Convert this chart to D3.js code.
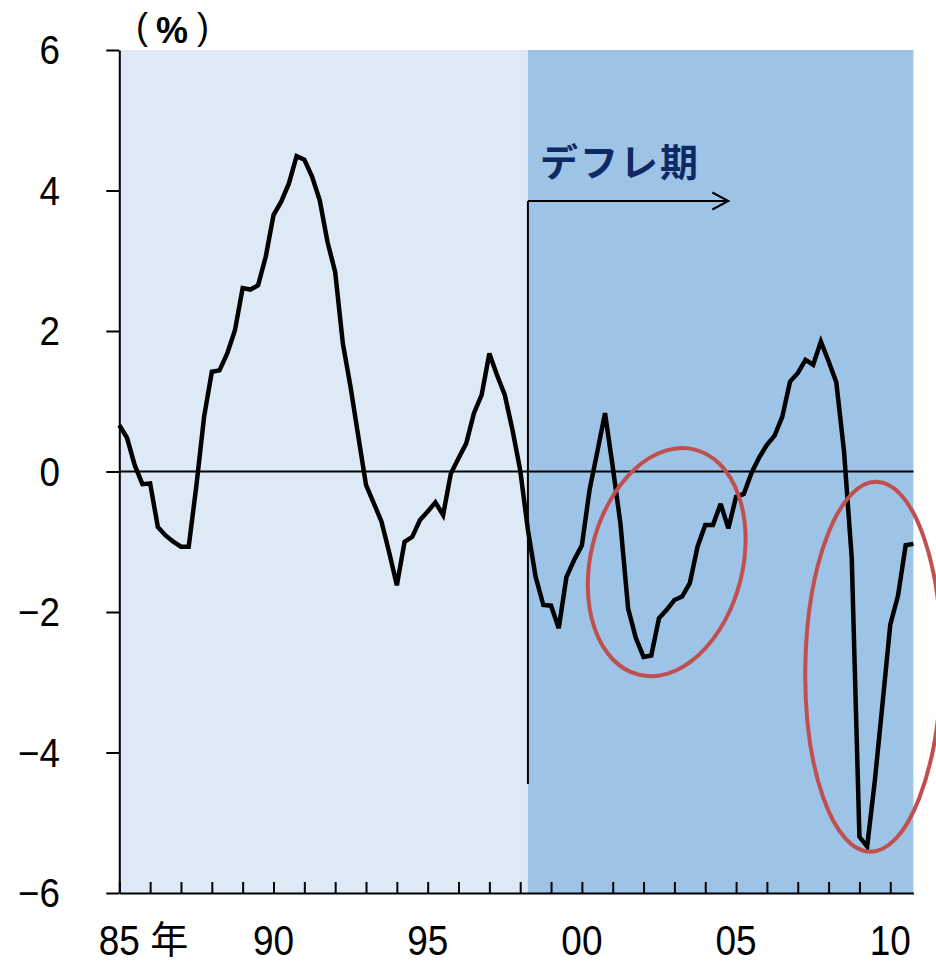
<!DOCTYPE html>
<html>
<head>
<meta charset="utf-8">
<script src="https://cdn.jsdelivr.net/npm/d3@7"></script>
<style>
  body { margin: 0; background: #fff; }
  svg { display: block; }
  .num { font-family: "Liberation Sans Narrow", "Arial Narrow", "Liberation Sans", sans-serif; }
</style>
</head>
<body>
<div id="chart"></div>
<script>
// quarterly values from 1985 Q1 (%)
var startYear = 1985;
var values = [
    0.66, 0.48, 0.09, -0.18, -0.17, -0.79, -0.91, -1.00,
    -1.07, -1.07, -0.20, 0.78, 1.42, 1.44, 1.68, 2.01,
    2.61, 2.59, 2.65, 3.06, 3.65, 3.84, 4.10, 4.49,
    4.44, 4.20, 3.86, 3.27, 2.84, 1.82, 1.20, 0.50,
    -0.19, -0.45, -0.71, -1.15, -1.62, -1.00, -0.93, -0.69,
    -0.57, -0.44, -0.62, -0.03, 0.19, 0.40, 0.83, 1.09,
    1.68, 1.37, 1.09, 0.59, 0.02, -0.83, -1.50, -1.90,
    -1.91, -2.23, -1.50, -1.26, -1.05, -0.26, 0.28, 0.83,
    0.07, -0.74, -1.95, -2.37, -2.64, -2.62, -2.09, -1.97,
    -1.83, -1.78, -1.59, -1.07, -0.76, -0.76, -0.46, -0.81,
    -0.36, -0.32, -0.02, 0.20, 0.38, 0.51, 0.78, 1.28,
    1.40, 1.59, 1.52, 1.85, 1.57, 1.27, 0.29, -1.23,
    -5.20, -5.34, -4.40, -3.30, -2.18, -1.77, -1.05, -1.03
];
var yTicks = [-6, -4, -2, 0, 2, 4, 6];
var yearTicks = d3.range(1985, 2011);
var labelYears = [1985, 1990, 1995, 2000, 2005, 2010];
var labelText = ['85', '90', '95', '00', '05', '10'];
var deflStart = 1998.25, arrowEnd = 2004.75, deflLineBottom = -4.45;
// circled periods: [year, value] centres
var circles = [
    { c: [2002.75, -1.29], rx: 76, ry: 116, rot: 14 },
    { c: [2009.45, -2.78], rx: 68, ry: 185, rot: 1 }
];

var width = 936, height = 964;
var lastX = startYear + (values.length - 1) / 4;

var x = d3.scaleLinear().domain([startYear, lastX]).range([119.3, 913.4]);
var y = d3.scaleLinear().domain([-6, 6]).range([893, 50]);

var svg = d3.select('#chart').append('svg')
    .attr('width', width)
    .attr('height', height);

// backgrounds
svg.append('rect')
    .attr('x', x(startYear)).attr('y', y(6))
    .attr('width', x(deflStart) - x(startYear)).attr('height', y(-6) - y(6))
    .attr('fill', '#dde9f5');
svg.append('rect')
    .attr('x', x(deflStart)).attr('y', y(6))
    .attr('width', x(lastX) - x(deflStart)).attr('height', y(-6) - y(6))
    .attr('fill', '#9dc3e6');

// zero line
svg.append('line')
    .attr('x1', x(startYear)).attr('x2', x(lastX))
    .attr('y1', y(0)).attr('y2', y(0))
    .attr('stroke', '#000').attr('stroke-width', 2);

// y axis
var yAxis = svg.append('g')
    .attr('transform', 'translate(' + x(startYear) + ',0)')
    .call(d3.axisLeft(y).tickValues(yTicks).tickSize(13).tickSizeOuter(0).tickFormat(''));
yAxis.selectAll('path, line').attr('stroke', '#000').attr('stroke-width', 2);

svg.append('g').selectAll('text')
    .data(yTicks)
    .join('text')
    .attr('class', 'num')
    .attr('transform', function (d) { return 'translate(60,' + (y(d) + 14) + ') scale(0.92,1)'; })
    .attr('text-anchor', 'end')
    .attr('font-size', 40)
    .text(function (d) { return d < 0 ? '\u2212' + Math.abs(d) : d; });

// x axis
var xAxis = svg.append('g')
    .attr('transform', 'translate(0,' + y(-6) + ')')
    .call(d3.axisBottom(x).tickValues(yearTicks).tickSize(-11).tickSizeOuter(0)
        .tickFormat(''));
xAxis.selectAll('path, line').attr('stroke', '#000').attr('stroke-width', 2);

svg.append('g').selectAll('text')
    .data(labelYears)
    .join('text')
    .attr('class', 'num')
    .attr('transform', function (d) { return 'translate(' + x(d) + ',955) scale(0.86,1)'; })
    .attr('text-anchor', 'middle')
    .attr('font-size', 43)
    .text(function (d, i) { return labelText[i]; });

svg.append('text')
    .attr('x', x(1985) + 31)
    .attr('y', 953)
    .attr('font-family', '"Noto Sans CJK JP", sans-serif')
    .attr('font-size', 38)
    .text('年');

// unit
var unit = svg.append('g').attr('class', 'num');
unit.append('text').attr('x', 136).attr('y', 39).attr('font-size', 36).text('(');
unit.append('text').attr('x', 156).attr('y', 43).attr('font-size', 36)
    .attr('font-family', '"Liberation Sans", sans-serif')
    .attr('font-weight', 'bold').text('%');
unit.append('text').attr('x', 197).attr('y', 39).attr('font-size', 36).text(')');

// deflation marker
svg.append('line')
    .attr('x1', x(deflStart)).attr('x2', x(deflStart))
    .attr('y1', 201).attr('y2', y(deflLineBottom))
    .attr('stroke', '#000').attr('stroke-width', 2);
svg.append('path')
    .attr('d', 'M' + x(deflStart) + ',201H' + x(arrowEnd)
        + 'M' + (x(arrowEnd) - 16) + ',192.5L' + x(arrowEnd) + ',201L' + (x(arrowEnd) - 16) + ',209.5')
    .attr('fill', 'none')
    .attr('stroke', '#000').attr('stroke-width', 2);
svg.append('text')
    .attr('x', x(deflStart) + 12)
    .attr('y', 176)
    .attr('font-family', '"Noto Sans CJK JP", sans-serif')
    .attr('font-size', 38)
    .attr('font-weight', 'bold')
    .attr('letter-spacing', 2)
    .attr('fill', '#0f2a63')
    .text('デフレ期');

// series
var line = d3.line()
    .x(function (d, i) { return x(startYear + i / 4); })
    .y(function (d) { return y(d); });

svg.append('path')
    .datum(values)
    .attr('d', line)
    .attr('fill', 'none')
    .attr('stroke', '#000')
    .attr('stroke-width', 4.5)
    .attr('stroke-linejoin', 'miter')
    .attr('stroke-miterlimit', 3);

// red circles
svg.append('g').selectAll('ellipse')
    .data(circles)
    .join('ellipse')
    .attr('transform', function (d) {
        return 'translate(' + x(d.c[0]) + ',' + y(d.c[1]) + ') rotate(' + d.rot + ')';
    })
    .attr('rx', function (d) { return d.rx; })
    .attr('ry', function (d) { return d.ry; })
    .attr('fill', 'none')
    .attr('stroke', '#c0504d')
    .attr('stroke-width', 4);
</script>
</body>
</html>
